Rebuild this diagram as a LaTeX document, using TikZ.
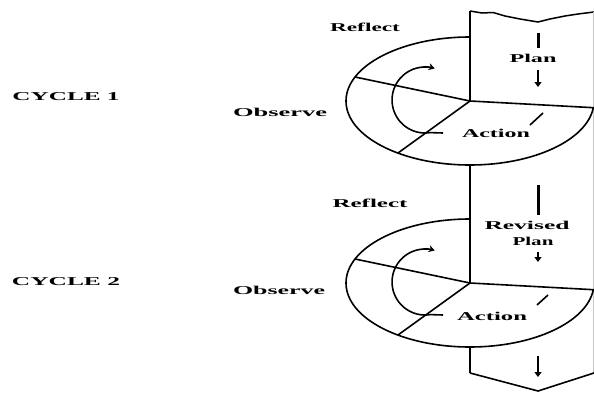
\documentclass[tikz,border=0pt]{standalone}
\usepackage{fontspec}
\setmainfont{Liberation Serif}
\usetikzlibrary{arrows.meta}
\newcommand{\lbl}[2]{\resizebox{#1pt}{\height}{#2}}
\begin{document}
\begin{tikzpicture}[x=1pt,y=1pt,
  ell/.style={line width=1.6pt},
  bandline/.style={line width=2.5pt},
  dashbar/.style={line width=3pt},
  downarrow/.style={line width=2.6pt,-{Triangle[length=5pt,width=7pt]}},
  lab/.style={inner sep=0pt, font=\fontsize{12}{12}\selectfont\bfseries},
  curv/.style={line width=1.6pt,-{Stealth[length=6pt,width=7pt]}}]
\useasboundingbox (0,0) rectangle (594,392);
% ---------- band ----------
\coordinate (bandtop) at (470,381);
\coordinate (c1) at (470,291);
\coordinate (e1bot) at (470,227);
\coordinate (c2) at (470,109);
\coordinate (e2bot) at (470,45);
\coordinate (chevl) at (470,19);
\coordinate (chevb) at (538,1);
\coordinate (chevr) at (594,19);
\draw[line width=1.5pt] (bandtop) -- (482,379) -- (493,379.5) -- (505,376) -- (520,373) -- (538,370) -- (550,373) -- (565,376) -- (578,378) -- (594,380);
\draw[gray!45, line width=0.6pt] (593,380) -- (593,19);
\draw[bandline] (bandtop) -- (c1);
\draw[bandline] (e1bot) -- (c2);
\draw[bandline] (e2bot) -- (chevl);
\draw[ell] (chevl) -- (chevb) -- (chevr);
% ---------- cycle 1 ----------
\coordinate (t1) at (470,355);
\coordinate (ul1) at (355,315);
\coordinate (ll1) at (398,239);
\draw[ell] (t1) arc[start angle=90,end angle=354,x radius=124,y radius=64] -- (c1);
\draw[ell] (c1) -- (ul1);
\draw[ell] (c1) -- (ll1);
\draw[curv] (443,259) -- (430.2,259.4) arc[start angle=279,end angle=73,radius=33];
\draw[ell] (530,267) -- (543,279);
\draw[dashbar] (538,359) -- (538,344);
\node[lab] (plan1) at (533,334) {\lbl{47}{Plan}};
\draw[downarrow] (538,322) -- (538,305);
\node[lab] (refl1) at (365,365) {\lbl{70}{Reflect}};
\node[lab] (obs1) at (280,280) {\lbl{94}{Observe}};
\node[lab] (act1) at (496,259) {\lbl{68}{Action}};
\node[lab] (cyc1) at (66,295) {\lbl{107}{CYCLE 1}};
% ---------- cycle 2 ----------
\coordinate (t2) at (470,173);
\coordinate (ul2) at (355,133);
\coordinate (ll2) at (398,57);
\draw[ell] (t2) arc[start angle=90,end angle=354,x radius=124,y radius=64] -- (c2);
\draw[ell] (c2) -- (ul2);
\draw[ell] (c2) -- (ll2);
\draw[curv] (443,77) -- (430.2,77.4) arc[start angle=279,end angle=73,radius=33];
\draw[ell] (537,87) -- (548,97);
\draw[dashbar] (538,207) -- (538,177);
\node[lab] (rev2) at (527,167) {\lbl{85}{Revised}};
\node[lab] (plan2) at (533,151) {\lbl{41}{Plan}};
\draw[downarrow] (538,140) -- (538,130);
\node[lab] (refl2) at (370,189) {\lbl{75}{Reflect}};
\node[lab] (obs2) at (279,102) {\lbl{92}{Observe}};
\node[lab] (act2) at (492,76) {\lbl{70}{Action}};
\node[lab] (cyc2) at (66,110) {\lbl{108}{CYCLE 2}};
\draw[downarrow] (538,36) -- (538,15);
\end{tikzpicture}
\end{document}
